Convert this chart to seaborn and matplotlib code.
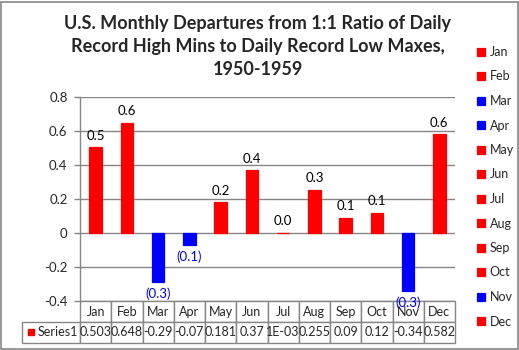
import matplotlib
matplotlib.use('Agg')
import matplotlib.pyplot as plt
import matplotlib.patches as mpatches
import pandas as pd
import seaborn as sns

# Chart data
months = ['Jan', 'Feb', 'Mar', 'Apr', 'May', 'Jun', 'Jul', 'Aug', 'Sep', 'Oct', 'Nov', 'Dec']
departures = [0.503, 0.648, -0.29, -0.07, 0.181, 0.37, 0.001, 0.255, 0.09, 0.12, -0.34, 0.582]
table_text = ['0.503', '0.648', '-0.29', '-0.07', '0.181', '0.37', '1E-03',
              '0.255', '0.09', '0.12', '-0.34', '0.582']
series_name = 'Series1'
yticks = [-0.4, -0.2, 0, 0.2, 0.4, 0.6, 0.8]
title = ('U.S. Monthly Departures from 1:1 Ratio of Daily\n'
         'Record High Mins to Daily Record Low Maxes,\n1950-1959')

sns.set_theme(style='white')
plt.rcParams['font.family'] = ['Lato', 'DejaVu Sans']

GRAY = '#868686'
RED = '#FF0000'
BLUE = '#0000FF'

df = pd.DataFrame({'month': months, 'value': departures})
palette = {m: (RED if v >= 0 else BLUE) for m, v in zip(months, departures)}

W, H = 519, 350
fig = plt.figure(figsize=(W / 100, H / 100), dpi=100)
ax = fig.add_axes([80 / W, 49 / H, 375 / W, 204 / H])

sns.barplot(data=df, x='month', y='value', hue='month', palette=palette,
            width=0.4, saturation=1, ax=ax, legend=True)
# thin outline so the near-zero July bar still shows, as in Excel
for p in ax.patches:
    p.set_edgecolor(p.get_facecolor())
    p.set_linewidth(0.9)

ax.set_xlim(-0.5, 11.5)
ax.set_ylim(-0.4, 0.8)
ax.set_yticks(yticks)
ax.set_yticklabels(['0' if t == 0 else f'{t:.1f}' for t in yticks], fontsize=9.5)
ax.tick_params(axis='y', left=True, length=4, width=1, color=GRAY, pad=5)
ax.set_xticks([])
ax.set_xlabel('')
ax.set_ylabel('')
ax.yaxis.grid(True, color=GRAY, lw=1)
ax.set_axisbelow(True)
for side in ['top', 'right', 'bottom']:
    ax.spines[side].set_visible(False)
ax.spines['left'].set_color(GRAY)
ax.spines['left'].set_linewidth(1)


def fmt(v):
    return f'{v:.1f}' if v >= 0 else f'({abs(v):.1f})'


for cont in ax.containers:
    vals = cont.datavalues
    color = 'black' if vals[0] >= 0 else BLUE
    ax.bar_label(cont, labels=[fmt(v) for v in vals], padding=4,
                 color=color, fontsize=9.5)

# data table under the plot
cell_text = [[''] + months, [series_name] + table_text]
widths = [58] + [375 / 12] * 12
tot = sum(widths)
tbl = ax.table(cellText=cell_text, colWidths=[w / tot for w in widths],
               cellLoc='center', bbox=[-58 / 375, -42 / 204, 433 / 375, 42 / 204])
tbl.auto_set_font_size(False)
tbl.set_fontsize(9)
for (r, c), cell in tbl.get_celld().items():
    cell.set_edgecolor(GRAY)
    cell.set_linewidth(1)
tbl[0, 0].visible_edges = 'open'
lab = tbl[1, 0]
lab.PAD = 0.03
lab._loc = 'right'
lab.get_text().set_ha('right')
fig.patches.append(mpatches.Rectangle((28 / W, (350 - 335) / H), 6 / W, 6 / H,
                                      transform=fig.transFigure, color=RED))

# legend on the right
handles, labels = ax.get_legend_handles_labels()
ax.legend(handles, labels, loc='upper left', bbox_to_anchor=(472 / W, 1 - 41 / H),
          bbox_transform=fig.transFigure, frameon=False, fontsize=9,
          handlelength=0.6, handleheight=0.6, handletextpad=0.4,
          labelspacing=1.0, borderaxespad=0)

fig.text(0.497, 1 - 15 / H, title, ha='center', va='top', fontsize=13,
         fontweight='bold', linespacing=1.42)

fig.patches.append(mpatches.Rectangle((0.5 / W, 1.5 / H), 1 - 2 / W, 1 - 3 / H,
                                      transform=fig.transFigure, fill=False,
                                      edgecolor=GRAY, lw=1.2))

fig.savefig('out.png', dpi=100)
